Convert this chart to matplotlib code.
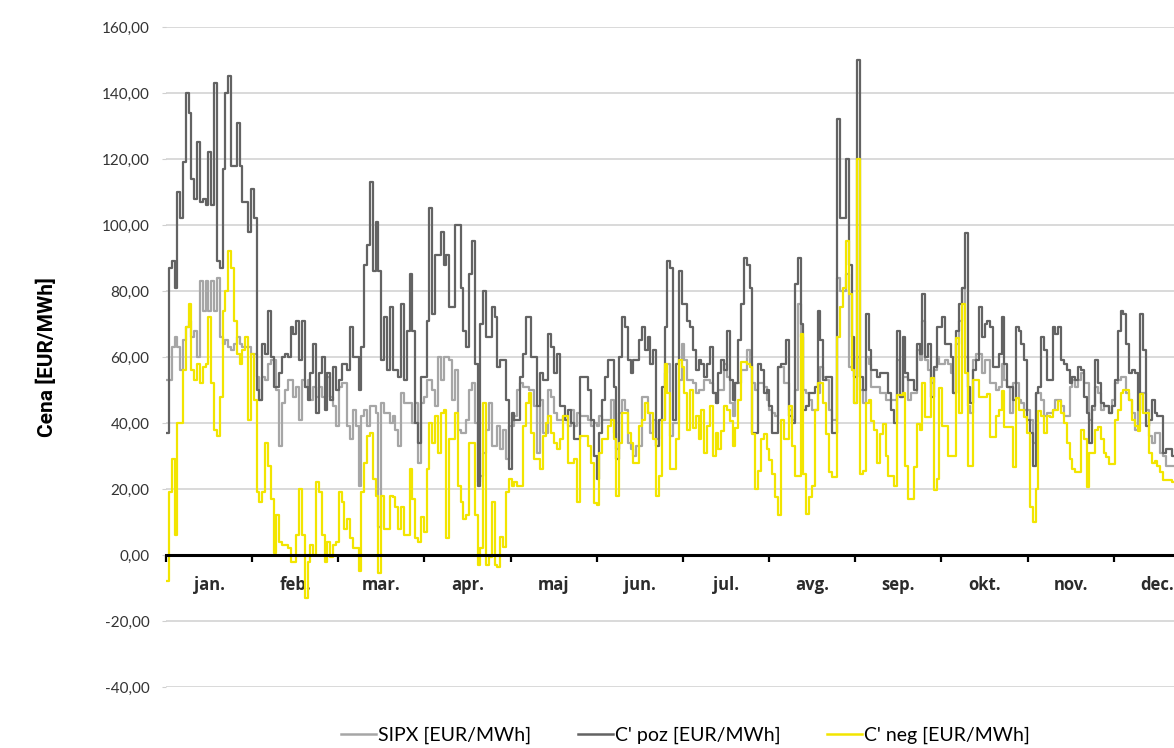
import numpy as np
from matplotlib import pyplot as plt
from matplotlib.lines import Line2D

# ---------------------------- data --------------------------------------
# daily prices over one year (day index 0..364)

sipx = [
	53, 53, 63, 66, 63, 56, 65, 69, 71, 66, 68, 60, 83, 74, 83, 74, 83, 74, 84, 66,
	64, 65, 63, 62, 64, 66, 64, 63, 63, 63, 61, 61, 54, 47, 54, 53, 58, 59, 59, 50,
	33, 46, 50, 53, 53, 48, 51, 41, 53, 51, 53, 47, 51, 48, 51, 48, 48, 54, 48, 45,
	39, 51, 52, 52, 39, 35, 44, 39, 21, 42, 44, 39, 45, 45, 43,
	8.6, 46, 43, 43, 40, 42, 38, 33, 49, 46, 46, 46, 40, 46, 28, 46, 48, 53, 53, 50,
	45, 60, 53, 60, 60, 59, 47, 56, 38, 37, 37, 41, 50, 52, 40, 22, 24, 31, 38, 46,
	33, 33, 39, 32, 38, 29, 39, 39, 42, 50, 52, 51, 51, 50, 50, 45, 31,
	47, 37, 37, 50, 48, 43, 41, 41, 42, 42, 39, 44, 39, 43, 42, 42, 42, 41, 39, 40,
	39, 42, 41, 41, 41, 47, 37, 32, 43, 47, 44, 34, 32, 30, 33, 33, 48, 48, 43, 37,
	41, 35, 41, 41, 55, 58, 36, 40, 40, 53, 64,
	59, 53, 53, 52, 49, 50, 50, 53, 53, 52, 49, 46, 50, 50, 58, 54, 46, 42, 52, 52,
	56, 56, 62, 58, 52, 50, 52, 52, 51, 47, 44, 43, 42, 57, 57, 52, 52, 44, 41, 50,
	76, 66, 50, 49, 47, 44, 44, 49, 57, 54, 53, 44, 41, 41, 84, 80, 80, 85, 57, 56,
	46, 60, 50,
	46, 60, 58, 51, 51, 51, 49, 49, 47, 47, 47, 47, 59, 48, 54, 54, 47, 49, 49, 62,
	59, 71, 59, 56, 52, 56, 60,
	58, 58, 59, 58, 55, 49, 64, 71, 81, 60, 45, 43, 59, 61, 61, 55, 59, 59, 52, 52,
	50, 51, 58, 53, 51, 43, 52, 52, 47, 46, 44, 44, 41, 34, 49, 49, 47, 42, 43, 43,
	44, 47, 47, 45, 42, 42, 51, 53, 51, 53, 55, 52, 52, 41, 44, 51, 49, 44, 45, 45,
	43, 47, 52, 53, 54, 54, 49, 47, 43, 38, 44, 49, 49, 44, 36, 34, 37, 37, 31, 30,
	27, 27, 27,
	27, 29, 31, 30, 28, 27, 30, 29, 28
]

c_poz = [
	37, 87, 89, 81, 110, 102, 119, 140, 134, 114, 108, 125, 107, 108, 106, 122, 106, 143, 89, 87,
	117, 140, 145, 118, 118, 131, 118, 107, 107, 98, 111, 102, 50,
	47, 64, 61, 74, 60, 51, 51, 55, 60, 61, 60, 69, 67, 71, 59, 71, 51, 47, 55, 64,
	43, 55, 60, 44, 55, 47, 57, 50,
	53, 58, 58, 56, 69, 60, 60, 50, 63, 88, 94, 113, 86, 101, 86, 59, 72, 56, 75, 56,
	56, 54, 76, 53, 68, 85, 68, 40, 34, 54, 54, 71, 105, 73, 91, 91, 98, 88, 91, 75,
	75, 100, 100, 81, 68, 63, 85, 95, 58, 21, 70, 80, 66, 66, 75, 72, 57, 59, 59, 47,
	26, 43, 41, 41, 54, 61, 72, 72, 60, 60, 45,
	55, 53, 53, 67, 63, 55, 61, 45, 45, 41, 44, 40, 35, 35, 54, 54, 54, 50, 41, 30,
	23, 37, 47, 54, 59, 59, 51, 29, 60, 72, 69, 59, 55, 59, 59, 65, 69, 62, 66, 58,
	62, 33, 41, 51, 69, 89, 87, 41, 58, 86, 76,
	76, 71, 69, 62, 56, 59, 58, 54, 58, 63, 49, 46, 55, 59, 56, 68, 53, 47, 52, 65,
	76, 90, 88, 81, 37, 37, 58, 56, 49, 50, 45, 37, 37, 57, 58, 58, 65, 42, 40, 82,
	90, 70, 44, 45, 49, 49, 51, 74, 65, 53, 54, 54, 37, 37, 132, 102, 102, 120, 88, 66,
	54, 150, 54,
	50, 73, 62, 56, 56, 54, 55, 55, 55, 49, 44, 40, 68, 48, 66, 55, 53, 53, 50, 64,
	61, 79, 60, 64, 48, 57, 69,
	69, 72, 64, 64, 60, 49, 68, 76, 81, 97.5, 51, 46, 56, 59, 75, 66, 70, 71, 69, 57,
	57, 61, 72, 58, 51, 51, 47, 69, 68, 64, 59, 41, 37, 27, 49, 51, 66, 62, 53, 53,
	69, 67, 69, 59, 58, 56, 52, 54, 53, 57, 56, 48, 43, 34, 45, 59, 52, 46, 45, 45,
	43, 45, 53, 68, 74, 73, 64, 55, 56, 55, 44, 73, 62, 39, 41, 47, 43, 42, 42, 31,
	32, 32, 30,
	30, 28, 32, 35, 30, 28, 33, 30, 29
]

c_neg = [
	-8, 19, 29, 6, 40, 40, 56, 69, 76, 56, 53, 58, 52, 57, 58, 72, 52, 38, 36, 48,
	74, 80, 92, 87, 71, 61, 58, 62, 66, 41, 61, 47, 19, 16, 19, 34, 27, 17, 0.5, 12,
	4, 3, 3, 2, -2, -2, 6, 20, 6, -13, -2, 3, 0, 22, 19, 6, -2, 4, -0.5, 3,
	4, 19, 16, 8, 11, 5, 2, 2, -5, 19, 28, 36, 37, 23,
	18, -5.5, 18, 8, 8, 18, 17.6, 14.6, 8, 14.6, 6, 6, 26, 17, 5, 4, 11.6, 7, 26, 40,
	34, 42, 31, 43, 44, 5, 35, 35, 43, 21, 16, 11, 12, 34, 34, 12, -3, 2, 46, -3,
	-0.5, 16, -3, -3.5, 5.5, 2.5, 19, 23, 21, 22, 21, 21, 39, 46, 49, 37, 29, 29,
	26, 36, 40, 42, 37, 34, 32, 35, 42, 42, 28, 28, 29, 16, 36, 36, 36, 33, 28, 15.6,
	15, 31, 35, 35, 39, 41, 35, 18, 34, 43, 43, 37, 34, 28, 28, 39, 41, 46, 43, 43,
	35, 18, 24, 41, 58, 49, 26, 26, 35, 59, 57,
	49, 38, 50, 38.6, 42, 35, 44, 31, 39, 45, 30, 37, 32, 37.5, 45, 44, 40.6, 33, 38.6, 47,
	58.6, 58.6, 58, 57, 36.5, 20, 25.5, 35, 36.5, 32, 28.7, 24.5, 17.7, 12, 41, 35, 35, 45, 33, 24,
	24, 67, 24.5, 12.5, 17.7, 21, 44, 52, 52, 46, 36.5, 25, 23.5, 23.5, 66, 75, 81, 95, 79, 56,
	46, 120, 24.5,
	25.5, 46, 47, 40.6, 38, 28, 36.5, 39.6, 30, 24, 24, 21, 48.5, 48.5, 49, 27, 17, 17, 26.6, 39.6,
	38, 52, 41.7, 41.7, 53.7, 19.8, 23,
	50.7, 39, 39, 30, 30, 30, 65.8, 43, 76, 55, 27, 27, 53, 53, 48, 48, 48, 48.7, 35.7, 35.7,
	42, 44, 49.7, 38.7, 38.7, 38.7, 26.6, 47.7, 44, 44, 41.7, 37, 14.6, 10, 20, 43.7, 42, 37, 42, 41.7,
	44, 44, 46.7, 43, 40, 34, 29, 26, 25, 25, 38, 35, 20.6, 31, 31, 38, 38.7, 35, 31, 29.6,
	27.6, 27.6, 41, 44, 49, 50, 50, 47, 41, 39, 37.7, 48.7, 43, 43, 31, 28, 28.6, 27, 25, 22.6,
	22.6, 22.6, 22,
	22, 24, 25, 23, 22, 24, 26, 25, 24
]

months = ["jan.", "feb.", "mar.", "apr.", "maj", "jun.", "jul.", "avg.", "sep.", "okt.", "nov.", "dec."]
y_ticks = [-40, -20, 0, 20, 40, 60, 80, 100, 120, 140, 160]

series_names = ["SIPX [EUR/MWh]", "C' poz [EUR/MWh]", "C' neg [EUR/MWh]"]
series_colors = ["#a6a6a6", "#636363", "#f2e500"]

# ---------------------------- plot --------------------------------------

plt.rcParams['font.family'] = ['Lato', 'DejaVu Sans']

days = np.arange(len(sipx))

fig = plt.figure(figsize=(11.74, 7.48), dpi=100)
# right edge of the plot runs past the picture, as in the original
ax = fig.add_axes([0.1414, 0.0816, 0.8807, 0.8824])

for vals, col in zip([sipx, c_poz, c_neg], series_colors):
	ax.step(days, vals, where="post", color=col, linewidth=1.6, zorder=3)

ax.set_xlim(0, 365)
ax.set_ylim(-40, 160)

# y axis
ax.set_yticks(y_ticks)
ax.set_yticklabels([f"{v:.2f}".replace(".", ",") for v in y_ticks])
ax.yaxis.grid(True, color="#d9d9d9", linewidth=1.4, zorder=0)
ax.tick_params(axis="y", length=3, color="#d0d0d0", pad=9, labelsize=11, labelcolor="#333333")
ax.set_ylabel("Cena [EUR/MWh]", family=['Roboto', 'DejaVu Sans'],
              fontsize=15, fontweight="bold", labelpad=32)

# x axis sits on zero, month ticks at boundaries, labels between them
month_len = 365 / 12
ax.spines["bottom"].set_position(("data", 0))
ax.spines["bottom"].set_linewidth(2.2)
ax.spines["bottom"].set_zorder(4)
for s in ["left", "right", "top"]:
	ax.spines[s].set_visible(False)

ax.set_xticks([i * month_len for i in range(13)])
ax.set_xticklabels([])
ax.set_xticks([(i + 0.5) * month_len for i in range(12)], minor=True)
ax.set_xticklabels(months, minor=True, family=['Open Sans', 'DejaVu Sans'],
                   fontweight="bold", fontsize=12, color="#2b2b2b")
ax.tick_params(axis="x", which="major", length=5, width=1.6, direction="out")
ax.tick_params(axis="x", which="minor", length=0, pad=15)

handles = [Line2D([], [], color=c, linewidth=1.8) for c in series_colors]
fig.legend(handles, series_names, loc="center", bbox_to_anchor=(0.584, 0.017), ncol=3,
           frameon=False, fontsize=14, handlelength=1.8, handletextpad=0.1,
           columnspacing=2.4)

fig.savefig("out.png", dpi=100)
